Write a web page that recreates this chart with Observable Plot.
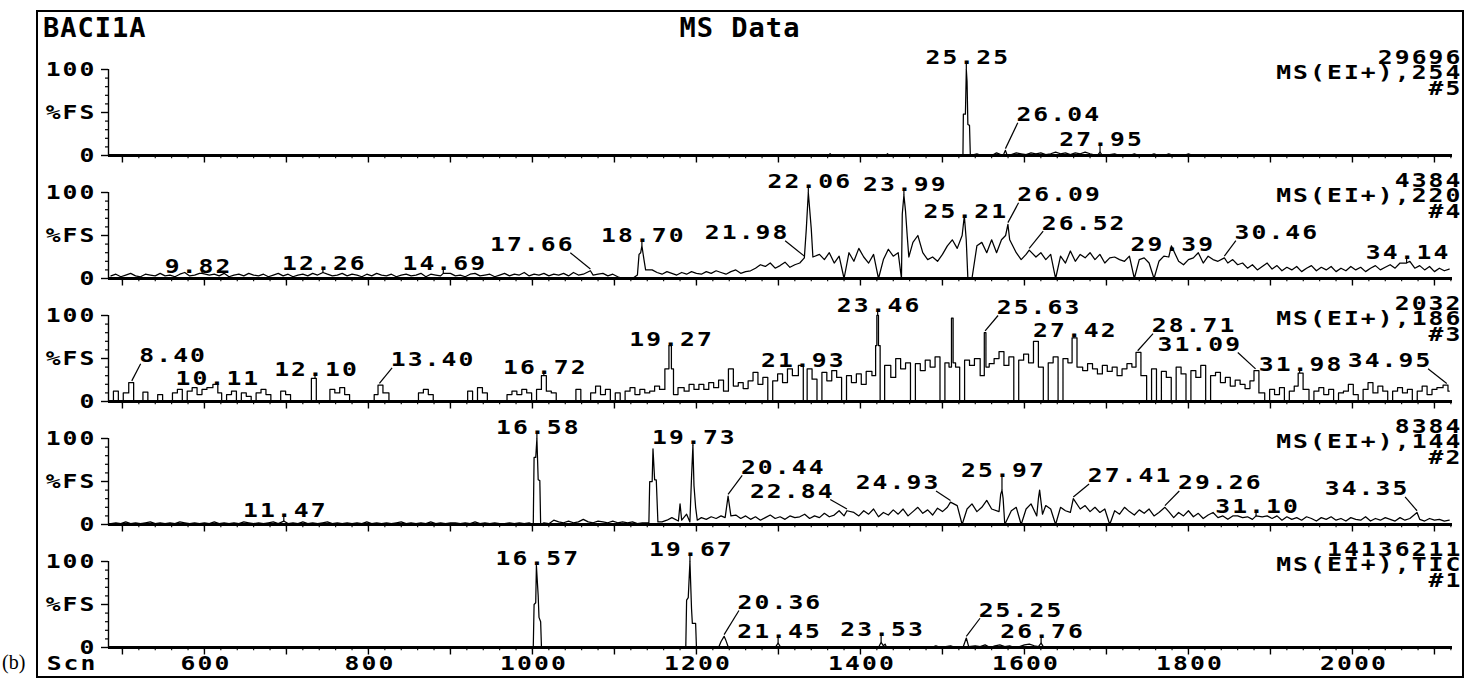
<!DOCTYPE html>
<html>
<head>
<meta charset="utf-8">
<script src="https://cdn.jsdelivr.net/npm/d3@7"></script>
<script src="https://cdn.jsdelivr.net/npm/@observablehq/plot@0.6"></script>
<style>
  html, body { margin: 0; padding: 0; background: #fff; overflow: hidden; }
  #page { position: relative; width: 1465px; height: 678px; overflow: hidden; background: #fff; }
  #chart { position: absolute; left: 0; top: 0; }
  #chart svg { font-family: "DejaVu Sans Mono", monospace; font-weight: bold; font-size: 19px; background: transparent; }
  #chart svg text { letter-spacing: 1.6px; }
  #frame { position: absolute; left: 36px; top: 10px; width: 1428px; height: 668px; border: 2px solid #000; box-sizing: border-box; }
  #overlay { position: absolute; left: 0; top: 0; pointer-events: none; }
</style>
</head>
<body>
<div id="page">
  <div id="chart"></div>
  <div id="frame"></div>
  <svg id="overlay" width="1465" height="678">
    <text x="43" y="37" font-family="DejaVu Sans Mono" font-weight="bold" font-size="27" letter-spacing="1">BACI1A</text>
    <text x="740" y="37" text-anchor="middle" font-family="DejaVu Sans Mono" font-weight="bold" font-size="27" letter-spacing="1">MS Data</text>
    <text x="2" y="669" font-family="Liberation Serif" font-size="20">(b)</text>
  </svg>
</div>
<script>
// ---- scan axis and retention-time calibration ----
const scanDomain = [483, 2122];
const scansPerMinute = 60.4;
const scanAtZeroMinutes = 4.0;
const scanOf = rt => scansPerMinute * rt + scanAtZeroMinutes;

// background traces are sampled every few scans
const sampleStep = 6;
const noiseStart = 486;

// ---- panel headers (top to bottom) ----
const panelIds = [5, 4, 3, 2, 1];
const fullScale = ["29696", "4384", "2032", "8384", "14136211"];
const traceNames = ["MS(EI+),254", "MS(EI+),220", "MS(EI+),186", "MS(EI+),144", "MS(EI+),TIC"];

// ---- axis ticks ----
const yTickValues = [0, 50, 100];
const yTickLabels = ["0", "%FS", "100"];
const xTickLabels = [600, 800, 1000, 1200, 1400, 1600, 1800, 2000];

// ---- #5  m/z 254 ----
const noise5Start = 1536;
const noise5 = [0, 2, 0, 1, 0, 3, 1, 2, 1, 3, 2, 1, 3, 2, 3, 1, 2, 4, 2, 3, 1, 3, 2, 4, 2, 1, 3, 2, 1, 2, 0, 1, 0, 2, 0, 1, 0, 2, 0, 0, 2, 0, 0, 0, 2, 0];
const peaks5 = [[25.25, 100], [26.04, 6], [27.95, 4]];
const extra5 = [[1361, 0], [1363, 2], [1365, 0], [1431, 0], [1433, 2], [1435, 0], [1525, 0], [1525.5, 48], [1528, 48], [1530, 86], [1531, 36], [1533, 35], [1534, 0], [1574, 0], [1579, 0], [1689, 0], [1695, 0]];
const labelAt5 = [[null, 113], [1640, 47], [null, 18]];

// ---- #4  m/z 220 ----
const noise4 = [
  3,5,2,4,6,3,2,5,4,3, 6,3,4,2,5,7,3,4,6,2, 4,5,3,6,2,4,5,3,6,4, 3,5,2,4,6,3,5,2,4,5,
  3,6,4,2,5,3,4,6,3,5, 4,2,5,3,6,4,3,5,2,4, 5,3,4,6,2,5,4,3,5,6, 3,4,2,5,6,3,4,5,2,4,
  6,3,5,4,7,3,5,4,6,3, 5,4,6,3,7,4,5,6,4,5, 6,3,5,2,0,0,0,3,5,8, 10,7,5,8,6,4,7,5,8,6,
  5,8,6,9,7,5,8,10,6,8, 9,12,16,14,18,12,15,19,13,16, 18,20,25,20,28,22,30,18,26,0, 30,20,35,25,18,28,0,22,34,26,
  30,24,20,42,50,30,22,25,20,28, 38,45,35,40,30,0,38,42,30,45, 30,45,55,40,30,22,28,0,25,30, 22,28,0,26,18,32,20,28,24,30,
  22,28,18,24,25,22,20,26,0,22, 24,18,0,20,26,25,24,20,16,22, 24,30,18,26,22,20,25,18,22,16, 18,12,16,10,14,18,11,15,9,13,
  10,14,8,12,15,9,13,10,14,8, 12,9,14,10,13,8,12,15,10,13, 16,12,18,14,20,12,15,10,14,8, 12,9,11
];
const peaks4 = [[9.82, 6], [12.26, 7], [14.69, 6], [17.66, 9], [18.70, 38], [21.98, 24], [22.06, 100], [23.99, 97], [25.21, 73], [26.09, 63], [26.52, 33], [29.39, 38], [30.46, 24], [34.14, 18]];
const extra4 = [[1128, 4], [1130, 28], [1132, 30], [1136, 22], [1138, 10], [1334, 58], [1340, 58], [1342, 25], [1450, 0], [1451, 75], [1455, 78], [1457, 50], [1459, 25], [1524, 50], [1529, 45], [1531, 0], [1577, 50], [1582, 45]];
const labelAt4 = [[591, 14], [null, 17], [null, 17], [998, 39], [null, 50], [1260, 53], [null, 112], [null, 109], [null, 77], [1641, 97], [1671, 64], [null, 39], [1906, 53], [null, 30]];

// ---- #3  m/z 186 ----
const noise3 = [
  0,12,0,10,0,0,0,11,0,0, 8,0,0,10,14,0,12,16,8,14, 16,8,10,0,8,12,0,10,6,0, 10,14,8,0,0,12,8,0,0,0,
  0,10,0,0,0,14,10,16,8,0, 0,0,0,0,8,12,10,0,0,0, 0,0,0,10,14,8,0,0,0,0, 0,0,0,12,0,16,10,0,0,0,
  0,8,12,8,14,10,0,14,12,12, 10,0,0,0,0,14,0,0,10,18, 8,14,0,10,0,12,16,8,14,10, 12,18,14,30,0,10,16,12,20,14,
  20,14,22,16,25,12,38,18,22,15, 24,34,20,28,0,24,32,22,38,30, 32,0,38,26,0,34,24,36,28,0, 30,22,32,20,35,36,40,0,42,28,
  50,38,45,0,44,36,48,40,52,0, 45,55,40,0,48,42,50,38,46,44, 50,58,42,52,0,48,55,45,70,40, 0,45,52,0,50,45,0,40,36,44,
  38,32,42,35,40,30,38,44,40,36, 30,0,38,0,35,28,0,40,32,0, 36,28,42,0,30,34,22,28,18,25, 20,15,24,18,10,0,14,8,16,0,
  12,18,10,14,0,12,16,8,14,0, 10,12,20,8,0,14,22,10,18,12, 0,12,16,10,14,0,12,18,8,14, 16,10,12
];
const peaks3 = [[8.40, 22], [10.11, 20], [12.10, 27], [13.40, 19], [16.72, 30], [19.27, 65], [21.93, 42], [23.46, 100], [25.63, 80], [27.42, 74], [28.71, 57], [31.09, 36], [31.98, 33], [34.95, 19]];
const extra3 = [[1165, 38], [1171, 38], [1173, 8], [1418, 30], [1419, 65], [1423, 65], [1425, 0], [1510, 40], [1512, 97], [1514, 45], [1550, 30], [1554, 40]];
const labelAt3 = [[560, 53], [null, 26], [null, 37], [877, 48], [null, 39], [null, 71.5], [null, 47], [null, 111], [1616, 109], [null, 82], [1805, 88], [1812, 66], [null, 42], [2044, 47]];

// ---- #2  m/z 144 ----
const noise2 = [
  1,2,1,3,1,2,1,2,3,1, 2,1,2,1,3,2,1,2,1,2, 1,3,1,2,1,2,1,3,2,1, 2,1,2,3,1,2,1,2,1,3,
  1,2,1,2,3,1,2,1,2,1, 2,1,3,1,2,1,2,1,2,3, 1,2,1,2,1,3,1,2,1,2, 2,1,2,1,3,1,2,1,2,1,
  1,2,1,2,1,2,3,1,2,1, 5,3,2,4,2,3,6,3,2,4, 3,2,4,2,3,2,3,1,2,3, 4,5,3,5,8,6,10,12,8,10,
  8,6,9,7,10,12,8,11,7,10, 6,9,5,8,11,7,9,6,10,8, 9,12,7,10,8,13,9,11,16,10, 22,14,10,16,12,18,9,14,11,17,
  12,18,10,15,20,13,17,11,19,15, 20,16,22,0,18,24,15,20,28,18, 0,22,22,16,20,0,18,24,20,26, 22,18,0,20,16,14,0,18,22,15,
  20,14,18,0,16,12,20,15,11,17, 13,18,10,14,12,15,8,14,10,16, 9,13,7,11,14,8,10,6,10,10, 8,9,6,9,9,10,7,10,5,9,
  6,8,5,9,7,4,8,6,9,5, 7,4,8,6,5,9,4,7,5,8, 6,4,8,5,7,10,6,4,7,5, 6,4,5
];
const peaks2 = [[11.47, 4], [16.58, 100], [19.73, 92], [20.44, 33], [22.84, 16], [24.93, 26], [25.97, 40], [27.41, 30], [29.26, 20], [31.10, 10], [34.35, 14]];
const extra2 = [[1001, 0], [1002, 78], [1004, 78], [1007, 52], [1009, 51], [1010, 0], [1142, 2], [1143, 50], [1146, 50], [1147, 88], [1149, 52], [1151, 52], [1153, 3], [1178, 4], [1180, 24], [1182, 5], [1192, 3], [1194, 55], [1197, 45], [1199, 20], [1201, 5], [1235, 8], [1242, 10], [1569, 15], [1571, 35], [1574, 30], [1576, 0], [1615, 10], [1617, 30], [1618.5, 40], [1620, 28], [1622, 12]];
const labelAt2 = [[null, 16], [null, 112], [null, 101], [1304, 66], [1315, 38], [1444, 48], [null, 62], [1727, 56], [1837, 48], [null, 20], [2016, 41]];

// ---- #1  total ion current ----
const noise1Start = 1480;
const noise1 = [0, 0, 2, 0, 1, 2, 0, 1, 3, 0, 2, 1, 3, 0, 2, 3, 1, 2, 0, 1, 3, 4, 2, 3, 3, 1, 0, 0, 1, 0];
const peaks1 = [[16.57, 95], [19.67, 100], [20.36, 13], [21.45, 5], [23.53, 6], [25.25, 11], [26.76, 5]];
const extra1 = [[1001, 0], [1002, 50], [1004, 52], [1007, 60], [1008, 35], [1010, 30], [1011, 0], [1187, 0], [1188, 55], [1190, 58], [1194, 45], [1195, 28], [1199, 28], [1200, 0], [1227, 0], [1230, 7], [1236, 8], [1239, 0], [1296, 0], [1303, 0], [1422, 0], [1428, 2], [1430, 4], [1432, 0], [1525, 0], [1532, 1], [1617, 1], [1623, 1]];
const labelAt1 = [[null, 103.5], [null, 113], [1300, 52], [null, 18], [null, 20], [1594, 43], [null, 18]];

// ---- layout ----
const W = 1465, H = 678;
const M = {left: 108, right: 13, top: 69, bottom: 31};
const facetGap = 0.3008;
const pxPerScan = (W - M.left - M.right) / (scanDomain[1] - scanDomain[0]);
const facetStep = (H - M.top - M.bottom) / (panelIds.length - facetGap);
const pxPerPct = facetStep * (1 - facetGap) / 100;
const pct = px => px / pxPerPct;
const charPx = 17;

const panels = [
  {id: 5, start: noise5Start, noise: noise5, peaks: peaks5, extra: extra5, labelAt: labelAt5},
  {id: 4, start: noiseStart, noise: noise4, peaks: peaks4, extra: extra4, labelAt: labelAt4},
  {id: 3, start: noiseStart, noise: noise3, peaks: peaks3, extra: extra3, labelAt: labelAt3},
  {id: 2, start: noiseStart, noise: noise2, peaks: peaks2, extra: extra2, labelAt: labelAt2},
  {id: 1, start: noise1Start, noise: noise1, peaks: peaks1, extra: extra1, labelAt: labelAt1}
];

// merge sampled background, labelled apexes and peak profile points into one trace per panel
const trace = [], labels = [], leaders = [];
for (const p of panels) {
  const fixed = p.peaks.map(([rt, h]) => [scanOf(rt), h]).concat(p.extra);
  const samples = p.noise
    .map((v, i) => [p.start + i * sampleStep, v])
    .filter(([s]) => fixed.every(([f]) => Math.abs(f - s) > 3));
  samples.concat(fixed)
    .sort((a, b) => a[0] - b[0])
    .forEach(([scan, v]) => trace.push({panel: p.id, scan, pct: v}));

  p.peaks.forEach(([rt, h], i) => {
    const apex = scanOf(rt);
    const [tx, ty] = p.labelAt[i];
    const text = rt.toFixed(2);
    const x = tx ?? apex;
    labels.push({panel: p.id, scan: x, pct: ty, text});
    const d = x - apex;
    if (Math.abs(d) < 15) {
      const top = ty - 6;
      if (top > h + 1) leaders.push({panel: p.id, x1: apex, y1: top, x2: apex, y2: h});
    } else {
      const half = (text.length * charPx - 6) / 2 / pxPerScan;
      leaders.push({panel: p.id, x1: d > 0 ? x - half : x + half, y1: ty - 9, x2: apex, y2: h + 2});
    }
  });
}

const headers = panelIds.map((id, i) => ({panel: id, text: `${fullScale[i]}\n${traceNames[i]}\n#${id}`}));
const bottomLabels = xTickLabels.map(v => ({panel: 1, scan: v, text: String(v)}));

const chart = Plot.plot({
  width: W,
  height: H,
  marginLeft: M.left,
  marginRight: M.right,
  marginTop: M.top,
  marginBottom: M.bottom,
  x: {domain: scanDomain, axis: null},
  y: {domain: [0, 100]},
  fy: {domain: panelIds, axis: null, paddingInner: facetGap, paddingOuter: 0, round: false},
  marks: [
    // baseline of each panel
    Plot.ruleY([0], {stroke: "black", strokeWidth: 3}),
    // vertical %FS axis line
    Plot.ruleX([scanDomain[0]], {y1: 0, y2: 100, stroke: "black", strokeWidth: 1.4}),
    Plot.axisY({
      ticks: yTickValues,
      tickFormat: d => yTickLabels[yTickValues.indexOf(d)],
      tickSize: 7,
      tickPadding: 5,
      strokeWidth: 1.4,
      label: null
    }),
    Plot.ruleY(d3.range(10, 100, 10).filter(v => v !== 50), {
      x1: scanDomain[0] - 3 / pxPerScan, x2: scanDomain[0], stroke: "black", strokeWidth: 1.2
    }),
    // scan ticks under each panel
    Plot.ruleX(d3.range(500, 2101, 100), {y1: 0, y2: -pct(7.5), stroke: "black", strokeWidth: 1.4}),
    Plot.ruleX(d3.range(500, 2121, 20), {y1: 0, y2: -pct(3.2), stroke: "black", strokeWidth: 1.1}),
    // ion traces; the m/z 186 trace is drawn scan-by-scan as steps
    Plot.line(trace, {x: "scan", y: "pct", fy: "panel", filter: d => d.panel !== 3, stroke: "black", strokeWidth: 1.25}),
    Plot.line(trace, {x: "scan", y: "pct", fy: "panel", filter: d => d.panel === 3, curve: "step", stroke: "black", strokeWidth: 1.25}),
    // peak label leaders and labels
    Plot.link(leaders, {x1: "x1", y1: "y1", x2: "x2", y2: "y2", fy: "panel", stroke: "black", strokeWidth: 1.2}),
    Plot.text(labels, {x: "scan", y: "pct", fy: "panel", text: "text", dx: 1.5}),
    // full-scale value, trace name and trace number
    Plot.text(headers, {
      fy: "panel", text: "text", frameAnchor: "top-right", textAnchor: "end",
      lineAnchor: "middle", lineHeight: 0.8, dx: 10, dy: 5
    }),
    // scan axis labels
    Plot.text(bottomLabels, {x: "scan", y: -pct(16.3), fy: "panel", text: "text", dx: 1.5}),
    Plot.text([{panel: 1, scan: scanDomain[0]}], {
      x: "scan", y: -pct(16.3), fy: "panel", text: () => "Scn", textAnchor: "end", dx: -11
    })
  ]
});

// widen the monospace glyphs about their anchor point
chart.querySelectorAll("text").forEach(t => {
  const tr = t.getAttribute("transform");
  if (tr) t.setAttribute("transform", tr + " scale(1.3,1)");
  else {
    const x = +t.getAttribute("x") || 0;
    t.setAttribute("transform", `translate(${x},0) scale(1.3,1) translate(${-x},0)`);
  }
});

document.getElementById("chart").appendChild(chart);
</script>
</body>
</html>
